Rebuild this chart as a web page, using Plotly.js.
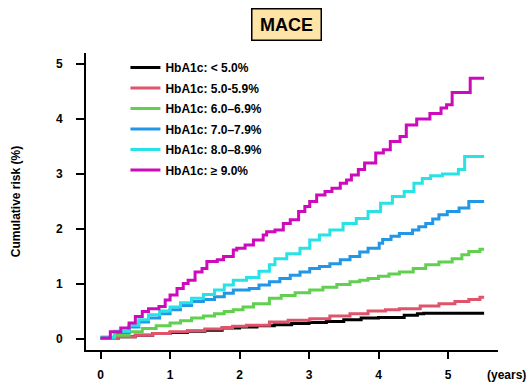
<!DOCTYPE html>
<html>
<head>
<meta charset="utf-8">
<script src="https://cdn.plot.ly/plotly-3.0.1.min.js"></script>
<style>html,body{margin:0;padding:0;background:#fff;}#chart{width:530px;height:382px;}</style>
</head>
<body>
<div id="chart"></div>
<script>
var seriesNames = ["HbA1c: < 5.0%", "HbA1c: 5.0-5.9%", "HbA1c: 6.0–6.9%", "HbA1c: 7.0–7.9%", "HbA1c: 8.0–8.9%", "HbA1c: ≥ 9.0%"];
var seriesColors = ["#000000", "#DF536B", "#61D04F", "#2297E6", "#28E2E5", "#CD0BBC"];

var tLt5 = [0, 0.25, 0.5, 0.75, 1.0, 1.25, 1.5, 1.75, 2.0, 2.25, 2.5, 2.75, 3.0, 3.25, 3.5, 3.75, 4.0, 4.37, 4.56, 4.65, 5.52];
var yLt5 = [0.01, 0.04, 0.07, 0.10, 0.12, 0.14, 0.16, 0.20, 0.22, 0.24, 0.26, 0.28, 0.30, 0.32, 0.35, 0.38, 0.39, 0.43, 0.46, 0.47, 0.47];

var t5to6 = [0, 0.25, 0.5, 0.75, 1.0, 1.25, 1.5, 1.75, 1.9, 2.1, 2.43, 2.7, 3.01, 3.3, 3.59, 3.85, 4.1, 4.3, 4.6, 4.87, 5.1, 5.3, 5.46, 5.52];
var y5to6 = [0.01, 0.04, 0.07, 0.10, 0.13, 0.15, 0.18, 0.21, 0.23, 0.25, 0.31, 0.34, 0.37, 0.42, 0.46, 0.51, 0.53, 0.55, 0.60, 0.64, 0.68, 0.72, 0.76, 0.76];

var t6to7 = [0, 0.2, 0.41, 0.6, 0.8, 1.0, 1.15, 1.31, 1.48, 1.64, 1.78, 1.91, 2.05, 2.2, 2.43, 2.6, 2.8, 3.01, 3.2, 3.4, 3.59, 3.73, 3.85, 4.0, 4.15, 4.3, 4.5, 4.68, 4.87, 5.06, 5.2, 5.3, 5.46, 5.52];
var y6to7 = [0.02, 0.07, 0.13, 0.19, 0.24, 0.29, 0.33, 0.38, 0.42, 0.46, 0.50, 0.53, 0.58, 0.64, 0.74, 0.79, 0.84, 0.89, 0.94, 0.99, 1.04, 1.07, 1.10, 1.14, 1.18, 1.22, 1.28, 1.35, 1.40, 1.46, 1.53, 1.59, 1.63, 1.63];

var t7to8 = [0, 0.2, 0.41, 0.55, 0.69, 0.85, 1.0, 1.15, 1.31, 1.48, 1.64, 1.78, 1.91, 2.14, 2.28, 2.43, 2.58, 2.73, 2.87, 3.01, 3.15, 3.3, 3.45, 3.59, 3.73, 3.85, 4.01, 4.06, 4.18, 4.3, 4.49, 4.58, 4.68, 4.78, 4.87, 4.99, 5.16, 5.3, 5.52];
var y7to8 = [0.03, 0.12, 0.22, 0.31, 0.38, 0.46, 0.53, 0.61, 0.68, 0.72, 0.77, 0.83, 0.89, 0.92, 0.98, 1.04, 1.10, 1.16, 1.22, 1.28, 1.32, 1.37, 1.44, 1.50, 1.58, 1.65, 1.74, 1.81, 1.87, 1.92, 1.98, 2.04, 2.10, 2.18, 2.26, 2.32, 2.38, 2.50, 2.50];

var t8to9 = [0, 0.2, 0.41, 0.55, 0.69, 0.85, 1.0, 1.15, 1.31, 1.48, 1.64, 1.78, 1.91, 2.1, 2.28, 2.43, 2.51, 2.68, 2.87, 3.01, 3.15, 3.3, 3.49, 3.68, 3.85, 4.03, 4.2, 4.37, 4.51, 4.63, 4.75, 4.92, 5.15, 5.24, 5.52];
var y8to9 = [0.03, 0.14, 0.25, 0.35, 0.44, 0.51, 0.58, 0.66, 0.74, 0.81, 0.89, 0.98, 1.07, 1.12, 1.23, 1.35, 1.46, 1.55, 1.65, 1.80, 1.89, 1.98, 2.10, 2.19, 2.32, 2.47, 2.59, 2.68, 2.83, 2.92, 2.97, 3.00, 3.08, 3.32, 3.32];

var tGe9 = [0, 0.14, 0.29, 0.41, 0.5, 0.6, 0.69, 0.84, 0.93, 1.0, 1.1, 1.19, 1.26, 1.36, 1.46, 1.53, 1.68, 1.77, 1.91, 1.96, 2.08, 2.2, 2.34, 2.39, 2.51, 2.63, 2.73, 2.85, 2.94, 3.01, 3.11, 3.23, 3.33, 3.45, 3.54, 3.61, 3.71, 3.8, 3.96, 4.07, 4.17, 4.31, 4.4, 4.55, 4.74, 4.9, 4.98, 5.06, 5.32, 5.52];
var yGe9 = [0.02, 0.13, 0.20, 0.29, 0.41, 0.50, 0.55, 0.59, 0.71, 0.80, 0.92, 1.01, 1.07, 1.22, 1.28, 1.41, 1.44, 1.50, 1.62, 1.65, 1.71, 1.80, 1.89, 1.95, 1.98, 2.10, 2.17, 2.32, 2.41, 2.50, 2.62, 2.68, 2.74, 2.83, 2.89, 2.98, 3.08, 3.20, 3.38, 3.44, 3.59, 3.68, 3.89, 4.00, 4.10, 4.20, 4.26, 4.48, 4.74, 4.74];

var xTicks = [0, 1, 2, 3, 4, 5];
var yTicks = [0, 1, 2, 3, 4, 5];
var xTickLabels = ["0", "1", "2", "3", "4", "5"];
var yTickLabels = ["0", "1", "2", "3", "4", "5"];
var titleText = "MACE";
var yTitleText = "Cumulative risk (%)";
var xUnitText = "(years)";

var allT = [tLt5, t5to6, t6to7, t7to8, t8to9, tGe9];
var allY = [yLt5, y5to6, y6to7, y7to8, y8to9, yGe9];

var FONT = "Liberation Sans, Arial, Helvetica, sans-serif";

var traces = seriesNames.map(function (name, i) {
  return {
    type: "scatter",
    mode: "lines",
    name: name,
    x: allT[i],
    y: allY[i],
    legendgroup: "g" + i,
    line: { color: seriesColors[i], width: 3, shape: "hv" },
    hoverinfo: "skip"
  };
});

var layout = {
  width: 530,
  height: 382,
  margin: { l: 85.5, r: 31.7, t: 53.3, b: 32 },
  paper_bgcolor: "#ffffff",
  plot_bgcolor: "#ffffff",
  showlegend: true,
  legend: {
    x: 0.0957, y: 1.0, xanchor: "left", yanchor: "top",
    bgcolor: "rgba(0,0,0,0)", borderwidth: 0,
    tracegroupgap: 1.5,
    itemwidth: 30,
    font: { family: FONT, size: 12, color: "#000", weight: "bold" }
  },
  xaxis: {
    range: [-0.21, 5.72],
    showgrid: false, zeroline: false,
    showline: true, linecolor: "#000", linewidth: 2,
    ticks: "outside", ticklen: 7, tickwidth: 2, tickcolor: "#000",
    tickvals: xTicks, ticktext: xTickLabels,
    ticklabelstandoff: 6,
    tickfont: { family: FONT, size: 12, color: "#000", weight: "bold" },
    fixedrange: true
  },
  yaxis: {
    range: [-0.2, 5.2],
    showgrid: false, zeroline: false,
    showline: true, linecolor: "#000", linewidth: 2,
    ticks: "outside", ticklen: 8, tickwidth: 2, tickcolor: "#000",
    tickvals: yTicks, ticktext: yTickLabels,
    ticklabelstandoff: 11,
    tickfont: { family: FONT, size: 12, color: "#000", weight: "bold" },
    title: { text: yTitleText, standoff: 33, font: { family: FONT, size: 12, color: "#000", weight: "bold" } },
    fixedrange: true
  },
  annotations: [
    {
      text: titleText, xref: "paper", yref: "paper", x: 0.4857, y: 1.0954,
      xanchor: "center", yanchor: "middle", showarrow: false,
      font: { family: FONT, size: 18, color: "#000", weight: "bold" },
      bgcolor: "#FFE4A8", bordercolor: "#000", borderwidth: 1.5, borderpad: 4,
      width: 60, height: 22
    },
    {
      text: xUnitText, xref: "paper", yref: "paper", x: 0.968, y: -0.084,
      xanchor: "left", yanchor: "middle", showarrow: false,
      font: { family: FONT, size: 12, color: "#000", weight: "bold" }
    }
  ]
};

Plotly.newPlot("chart", traces, layout, { displayModeBar: false, staticPlot: true });
</script>
</body>
</html>
